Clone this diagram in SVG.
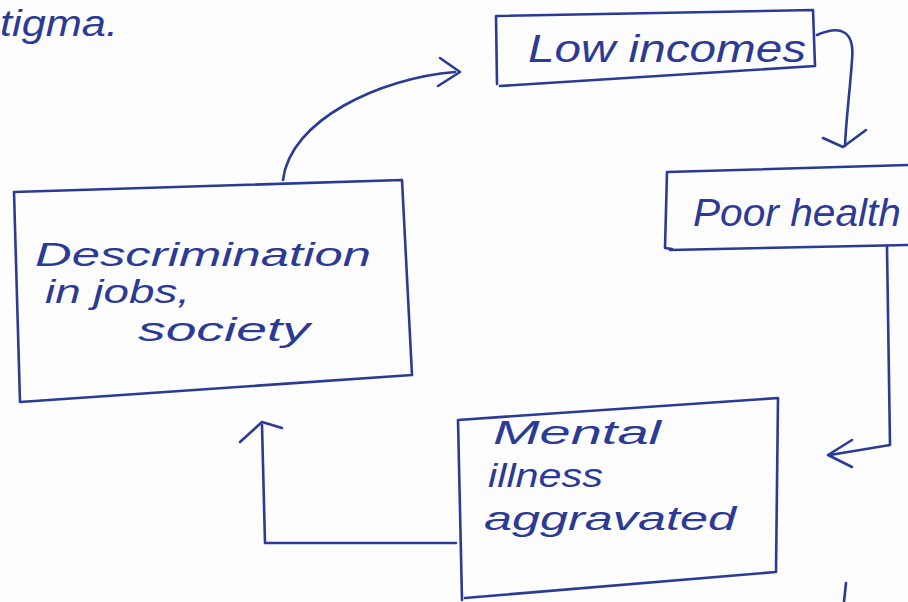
<svg xmlns="http://www.w3.org/2000/svg" width="908" height="602" viewBox="0 0 908 602">
<style>
.ink{fill:none;stroke:#2b3a96;stroke-width:2.6;stroke-linecap:round;stroke-linejoin:round}
.t{fill:#2b3a96;font-family:"Liberation Sans","DejaVu Sans",sans-serif;font-style:italic}
</style>
<rect width="908" height="602" fill="#fdfdfd"/>
<text class="t" x="0" y="36" font-size="36" textLength="118" lengthAdjust="spacingAndGlyphs">tigma.</text>
<g id="low-incomes">
<path class="ink" d="M496 16 L813 10 L815 66 L500 86 M496 16 L497 84"/>
<text class="t" x="528" y="62" font-size="38" textLength="278" lengthAdjust="spacingAndGlyphs">Low incomes</text>
</g>
<g id="poor-health">
<path class="ink" d="M667 172 L908 165 M667 172 L665 248 L672 249 M670 250 L908 245"/>
<text class="t" x="693" y="226" font-size="38" textLength="208" lengthAdjust="spacingAndGlyphs">Poor health</text>
</g>
<g id="discrimination">
<path class="ink" d="M14 192 L402 180 L412 375 L20 402 Z"/>
<text class="t" x="35" y="266" font-size="34" textLength="336" lengthAdjust="spacingAndGlyphs">Descrimination</text>
<text class="t" x="45" y="303" font-size="34" textLength="145" lengthAdjust="spacingAndGlyphs">in jobs,</text>
<text class="t" x="138" y="341" font-size="34" textLength="172" lengthAdjust="spacingAndGlyphs">society</text>
</g>
<g id="mental-illness">
<path class="ink" d="M458 420 L778 398 L776 572 L465 598 M458 420 L462 600"/>
<text class="t" x="493" y="444" font-size="34" textLength="168" lengthAdjust="spacingAndGlyphs">Mental</text>
<text class="t" x="488" y="487" font-size="34" textLength="115" lengthAdjust="spacingAndGlyphs">illness</text>
<text class="t" x="484" y="530" font-size="34" textLength="252" lengthAdjust="spacingAndGlyphs">aggravated</text>
</g>
<g id="connectors">
<path class="ink" d="M283 180 C 290 120, 380 78, 455 72"/>
<path class="ink" d="M440 58 L460 72 L438 86"/>
<path class="ink" d="M817 35 C 840 25, 855 30, 852 60 C 850 90, 846 120, 845 146"/>
<path class="ink" d="M823 138 L843 147 L866 130"/>
<path class="ink" d="M887 247 L890 445 L830 455"/>
<path class="ink" d="M852 440 L828 455 L852 467"/>
<path class="ink" d="M456 543 L265 543 L262 425"/>
<path class="ink" d="M240 442 L262 422 L282 428"/>
<path class="ink" d="M846 583 L844 602"/>
</g>
</svg>
